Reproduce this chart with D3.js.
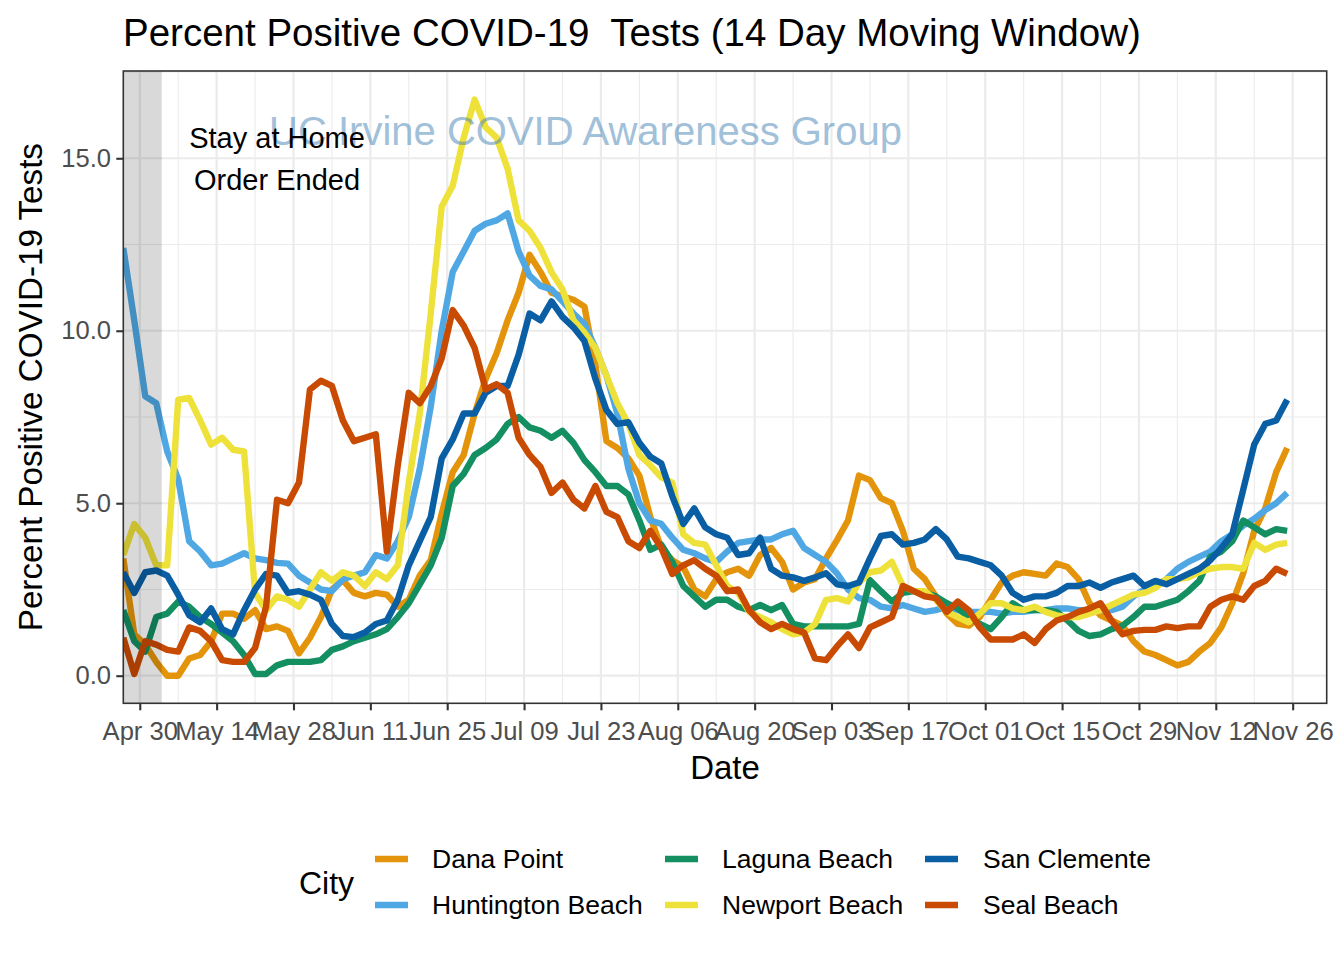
<!DOCTYPE html>
<html><head><meta charset="utf-8">
<script src="https://cdn.jsdelivr.net/npm/d3@7"></script>
<style>
body{margin:0;background:#fff}
text{font-family:"Liberation Sans",Arial,Helvetica,sans-serif}
</style>
</head><body>
<svg id="chart" width="1344" height="960"></svg>
<script>
// ---------------- DATA ----------------
const cities = ["Dana Point","Huntington Beach","Laguna Beach","Newport Beach","San Clemente","Seal Beach"];
const cityColors = ["#E3940A","#4FA8E3","#138F62","#EEE13A","#0A5EA4","#C94B03"];
// one value every 2 days, from 2020-04-27 to 2020-11-25
const firstDate = "2020-04-27";
const stepDays = 2;

const danaPoint = [3.4,1.2,0.9,0.4,0.0,0.0,0.5,0.6,1.0,1.8,
1.8,1.65,1.9,1.35,1.43,1.3,0.65,1.1,1.7,2.5,
2.77,2.4,2.3,2.4,2.35,2.0,2.2,2.9,3.35,4.7,
5.9,6.4,7.6,8.6,9.35,10.3,11.1,12.2,11.7,11.1,
11.0,10.9,10.7,9.0,6.8,6.6,6.3,5.8,4.6,3.7,
3.35,3.15,2.5,2.3,2.8,3.0,3.1,2.9,3.5,3.7,
3.3,2.5,2.7,2.8,3.4,3.93,4.5,5.8,5.67,5.15,
5.0,4.2,3.1,2.8,2.3,1.8,1.5,1.45,1.7,2.2,
2.7,2.9,3.0,2.95,2.9,3.25,3.15,2.8,2.1,1.75,
1.6,1.45,1.0,0.7,0.6,0.45,0.3,0.4,0.7,0.95,
1.4,2.1,2.97,4.2,4.85,5.9,6.6];

const huntingtonBeach = [12.4,10.3,8.1,7.9,6.5,5.7,3.9,3.6,3.2,3.25,
3.4,3.55,3.4,3.35,3.27,3.25,2.9,2.7,2.5,2.45,
2.8,2.9,3.0,3.5,3.4,3.9,4.6,6.0,7.8,10.0,
11.7,12.3,12.9,13.1,13.2,13.4,12.3,11.6,11.3,11.2,
10.85,10.5,10.2,9.5,8.7,7.6,6.0,5.0,4.5,4.4,
4.0,3.65,3.55,3.4,3.3,3.6,3.85,3.9,3.95,3.95,
4.1,4.2,3.7,3.5,3.3,2.97,2.5,2.25,2.2,2.0,
1.95,2.05,1.95,1.85,1.9,2.0,1.9,1.85,1.85,1.85,
1.8,1.85,1.85,1.9,1.9,1.95,1.95,1.9,1.9,1.9,
1.9,2.0,2.3,2.5,2.6,2.8,3.1,3.3,3.45,3.6,
3.9,4.1,4.35,4.55,4.8,5.0,5.3];

const lagunaBeach = [1.9,1.0,0.7,1.7,1.8,2.15,2.0,1.7,1.5,1.25,
1.0,0.6,0.05,0.05,0.3,0.4,0.4,0.4,0.45,0.75,
0.85,1.0,1.1,1.2,1.35,1.7,2.1,2.65,3.2,4.0,
5.5,5.85,6.4,6.6,6.85,7.3,7.5,7.2,7.1,6.9,
7.1,6.75,6.25,5.9,5.5,5.5,5.25,4.5,3.65,3.8,
3.3,2.6,2.3,2.0,2.2,2.2,2.0,1.9,2.05,1.9,
2.05,1.5,1.43,1.43,1.43,1.43,1.43,1.5,2.77,2.45,
2.15,2.4,2.45,2.4,2.3,2.1,1.95,1.7,1.5,1.35,
1.7,2.1,1.9,1.9,1.9,1.85,1.6,1.3,1.15,1.2,
1.35,1.45,1.7,2.0,2.0,2.1,2.2,2.45,2.75,3.45,
3.6,3.9,4.5,4.3,4.1,4.25,4.2];

const newportBeach = [3.5,4.4,4.0,3.2,3.2,8.0,8.05,7.4,6.7,6.9,
6.55,6.5,2.4,1.9,2.3,2.2,2.0,2.5,3.0,2.75,
3.0,2.9,2.6,3.0,2.8,3.2,5.6,7.6,10.5,13.6,
14.2,15.6,16.7,15.9,15.6,14.7,13.2,12.9,12.4,11.7,
11.2,10.3,9.95,9.5,8.7,7.9,7.3,6.4,6.1,5.75,
5.6,4.1,3.85,3.8,3.2,2.6,2.4,1.85,1.7,1.55,
1.35,1.2,1.25,1.5,2.2,2.25,2.15,2.7,3.0,3.05,
3.3,2.6,2.45,2.45,2.2,1.85,1.7,1.55,1.8,2.1,
2.1,1.95,1.9,2.0,1.85,1.75,1.7,1.7,1.8,1.9,
2.05,2.2,2.35,2.4,2.55,2.8,2.8,2.85,3.0,3.1,
3.15,3.15,3.1,3.85,3.65,3.8,3.85];

const sanClemente = [3.0,2.4,3.0,3.05,2.9,2.35,1.75,1.55,1.95,1.35,
1.2,1.9,2.5,2.95,2.9,2.4,2.45,2.35,2.2,1.5,
1.15,1.12,1.25,1.5,1.6,2.2,3.2,3.9,4.6,6.3,
6.85,7.6,7.6,8.2,8.4,8.4,9.3,10.5,10.3,10.85,
10.4,10.1,9.7,8.6,7.7,7.3,7.35,6.75,6.35,6.15,
5.2,4.4,4.85,4.3,4.1,4.0,3.5,3.55,4.0,3.1,
2.9,2.85,2.75,2.85,2.97,2.65,2.6,2.7,3.4,4.05,
4.1,3.8,3.85,3.95,4.25,3.95,3.45,3.4,3.3,3.2,
2.9,2.4,2.2,2.3,2.3,2.4,2.6,2.6,2.7,2.55,
2.7,2.8,2.9,2.6,2.75,2.65,2.8,2.95,3.1,3.35,
3.7,4.1,5.4,6.7,7.3,7.4,8.0];

const sealBeach = [1.1,0.05,1.0,0.9,0.75,0.7,1.4,1.3,1.0,0.45,
0.4,0.4,0.8,2.0,5.1,5.0,5.6,8.3,8.55,8.4,
7.4,6.8,6.9,7.0,3.6,6.1,8.2,7.9,8.4,9.2,
10.6,10.15,9.5,8.3,8.45,8.2,6.9,6.4,6.05,5.3,
5.6,5.1,4.85,5.5,4.75,4.6,3.9,3.7,4.2,3.7,
2.95,3.2,3.35,3.1,2.9,2.45,2.5,1.9,1.55,1.35,
1.5,1.35,1.25,0.5,0.45,0.85,1.2,0.8,1.4,1.55,
1.7,2.6,2.45,2.3,2.25,1.85,2.15,1.9,1.4,1.05,
1.05,1.05,1.2,0.95,1.35,1.6,1.7,1.85,1.95,2.1,
1.6,1.2,1.3,1.33,1.33,1.43,1.38,1.43,1.43,2.0,
2.2,2.3,2.2,2.6,2.75,3.1,2.95];

const seriesValues = [danaPoint, huntingtonBeach, lagunaBeach, newportBeach, sanClemente, sealBeach];

const xTickDates = ["2020-04-30","2020-05-14","2020-05-28","2020-06-11","2020-06-25","2020-07-09","2020-07-23","2020-08-06","2020-08-20","2020-09-03","2020-09-17","2020-10-01","2020-10-15","2020-10-29","2020-11-12","2020-11-26"];
const xTickLabels = ["Apr 30","May 14","May 28","Jun 11","Jun 25","Jul 09","Jul 23","Aug 06","Aug 20","Sep 03","Sep 17","Oct 01","Oct 15","Oct 29","Nov 12","Nov 26"];
const yTicks = [0,5,10,15];
const yTickLabels = ["0.0","5.0","10.0","15.0"];
const stayHomeEnd = "2020-05-04";

// ---------------- CHART ----------------
const DAY = 864e5;
const parse = s => new Date(s + "T00:00:00Z");
const t0 = parse(firstDate);
const dates = danaPoint.map((_, i) => new Date(t0.getTime() + i * stepDays * DAY));

const L = 123.3, R = 1326.7, T = 71, B = 703.3;
const svg = d3.select("#chart");
svg.append("rect").attr("width",1344).attr("height",960).attr("fill","#fff");

const x = d3.scaleUtc().domain([t0, new Date(t0.getTime() + 219.2 * DAY)]).range([L, R]);
const y = d3.scaleLinear().domain([-0.8, 17.53]).range([B, T]);

svg.append("defs").append("clipPath").attr("id","clip")
  .append("rect").attr("x",L).attr("y",T).attr("width",R-L).attr("height",B-T);

const g = svg.append("g");
const tickD = xTickDates.map(parse);
const minorX = [];
tickD.forEach(d => { [-7, 7].forEach(o => { const m = new Date(d.getTime() + o*DAY); if (m >= x.domain()[0] && m <= x.domain()[1] && !minorX.some(q=>+q===+m)) minorX.push(m); }); });
const minorY = [2.5, 7.5, 12.5, 17.5];
g.selectAll(".mx").data(minorX).join("line")
  .attr("x1", d=>x(d)).attr("x2", d=>x(d)).attr("y1",T).attr("y2",B)
  .attr("stroke","#EBEBEB").attr("stroke-width",1.1);
g.selectAll(".my").data(minorY).join("line")
  .attr("x1",L).attr("x2",R).attr("y1",d=>y(d)).attr("y2",d=>y(d))
  .attr("stroke","#EBEBEB").attr("stroke-width",1.1);
g.selectAll(".Mx").data(tickD).join("line")
  .attr("x1", d=>x(d)).attr("x2", d=>x(d)).attr("y1",T).attr("y2",B)
  .attr("stroke","#EBEBEB").attr("stroke-width",2.2);
g.selectAll(".My").data(yTicks).join("line")
  .attr("x1",L).attr("x2",R).attr("y1",d=>y(d)).attr("y2",d=>y(d))
  .attr("stroke","#EBEBEB").attr("stroke-width",2.2);

// lines
const line = d3.line().x((d,i)=>x(dates[i])).y(d=>y(d));
const lg = svg.append("g").attr("clip-path","url(#clip)");
seriesValues.forEach((vals, si) => {
  lg.append("path").datum(vals).attr("d", line)
    .attr("fill","none").attr("stroke", cityColors[si])
    .attr("stroke-width",6.4).attr("stroke-linejoin","round").attr("stroke-linecap","butt");
});

// stay-at-home shaded rect
svg.append("rect").attr("x", L).attr("y", T)
  .attr("width", x(parse(stayHomeEnd)) - L).attr("height", B - T)
  .attr("fill","#000").attr("opacity",0.15);

// watermark
svg.append("text").attr("x",585.5).attr("y",145).attr("text-anchor","middle")
  .attr("font-size",40).attr("fill","#4682B4").attr("opacity",0.5)
  .text("UC Irvine COVID Awareness Group");

// annotation
const annX = x(parse("2020-05-25"));
svg.append("text").attr("x",annX).attr("y",147.5).attr("text-anchor","middle")
  .attr("font-size",29).attr("fill","#000").text("Stay at Home");
svg.append("text").attr("x",annX).attr("y",190).attr("text-anchor","middle")
  .attr("font-size",29).attr("fill","#000").text("Order Ended");

// panel border
svg.append("rect").attr("x",L).attr("y",T).attr("width",R-L).attr("height",B-T)
  .attr("fill","none").attr("stroke","#333333").attr("stroke-width",1.6);

// axes
const xAxis = d3.axisBottom(x).tickValues(tickD).tickFormat((d,i)=>xTickLabels[i]).tickSize(7).tickPadding(12);
const xa = svg.append("g").attr("transform",`translate(0,${B})`).call(xAxis);
const yAxis = d3.axisLeft(y).tickValues(yTicks).tickFormat((d,i)=>yTickLabels[i]).tickSize(7).tickPadding(5.3);
const ya = svg.append("g").attr("transform",`translate(${L},0)`).call(yAxis);
[xa, ya].forEach(a => {
  a.select(".domain").remove();
  a.selectAll(".tick line").attr("stroke","#333333").attr("stroke-width",2.1);
  a.selectAll(".tick text").attr("fill","#4D4D4D").attr("font-size",25.6)
    .attr("font-family",'"Liberation Sans",Arial,sans-serif');
});

// axis titles
svg.append("text").attr("x",(L+R)/2).attr("y",779).attr("text-anchor","middle")
  .attr("font-size",33).attr("fill","#000").text("Date");
svg.append("text").attr("transform",`translate(42,${(T+B)/2}) rotate(-90)`).attr("text-anchor","middle")
  .attr("font-size",33.2).attr("fill","#000").text("Percent Positive COVID-19 Tests");

// title
svg.append("text").attr("x",123).attr("y",46).attr("font-size",38.5).attr("fill","#000")
  .attr("xml:space","preserve").style("white-space","pre")
  .text("Percent Positive COVID-19  Tests (14 Day Moving Window)");

// legend
svg.append("text").attr("x",299).attr("y",894).attr("font-size",32).attr("fill","#000").text("City");
const keyX = [375, 665, 925], textX = [432, 722, 983], rowY = [859, 905];
cities.forEach((c, i) => {
  const col = Math.floor(i / 2), row = i % 2;
  svg.append("line").attr("x1",keyX[col]).attr("x2",keyX[col]+33)
    .attr("y1",rowY[row]).attr("y2",rowY[row])
    .attr("stroke",cityColors[i]).attr("stroke-width",6.4);
  svg.append("text").attr("x",textX[col]).attr("y",rowY[row]+9.4)
    .attr("font-size",26.5).attr("fill","#000").text(c);
});
</script>
</body></html>
